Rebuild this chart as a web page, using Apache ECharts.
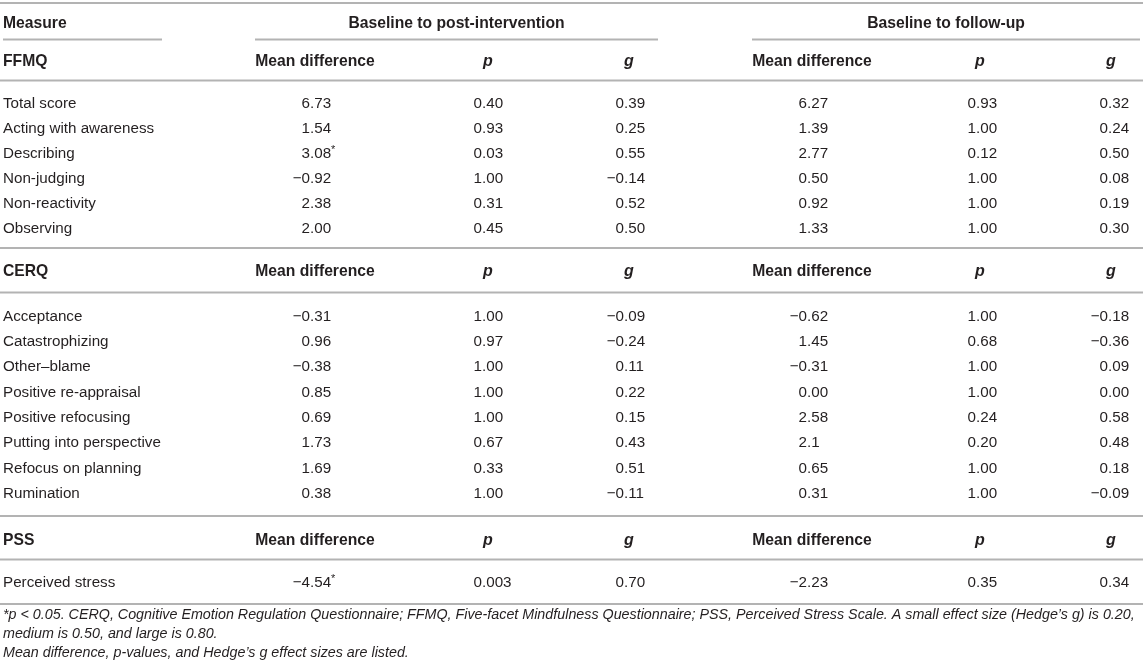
<!DOCTYPE html>
<html><head><meta charset="utf-8">
<script src="https://cdn.jsdelivr.net/npm/echarts@6/dist/echarts.min.js"></script>
<style>html,body{margin:0;padding:0;background:#fff}#c{width:1143px;height:671px}</style>
</head><body><div id="c"></div>
<script>
// ---------- DATA ----------
const firstHeader = 'Measure';
const periods = ['Baseline to post-intervention', 'Baseline to follow-up'];
const statHeaders = ['Mean difference', 'p', 'g'];
const scaleNames = ['FFMQ', 'CERQ', 'PSS'];

const ffmqMeasures = ['Total score', 'Acting with awareness', 'Describing', 'Non-judging', 'Non-reactivity', 'Observing'];
const ffmqPostMean = ['6.73', '1.54', '3.08*', '−0.92', '2.38', '2.00'];
const ffmqPostP = ['0.40', '0.93', '0.03', '1.00', '0.31', '0.45'];
const ffmqPostG = ['0.39', '0.25', '0.55', '−0.14', '0.52', '0.50'];
const ffmqFollowMean = ['6.27', '1.39', '2.77', '0.50', '0.92', '1.33'];
const ffmqFollowP = ['0.93', '1.00', '0.12', '1.00', '1.00', '1.00'];
const ffmqFollowG = ['0.32', '0.24', '0.50', '0.08', '0.19', '0.30'];

const cerqMeasures = ['Acceptance', 'Catastrophizing', 'Other–blame', 'Positive re-appraisal', 'Positive refocusing', 'Putting into perspective', 'Refocus on planning', 'Rumination'];
const cerqPostMean = ['−0.31', '0.96', '−0.38', '0.85', '0.69', '1.73', '1.69', '0.38'];
const cerqPostP = ['1.00', '0.97', '1.00', '1.00', '1.00', '0.67', '0.33', '1.00'];
const cerqPostG = ['−0.09', '−0.24', '0.11', '0.22', '0.15', '0.43', '0.51', '−0.11'];
const cerqFollowMean = ['−0.62', '1.45', '−0.31', '0.00', '2.58', '2.1', '0.65', '0.31'];
const cerqFollowP = ['1.00', '0.68', '1.00', '1.00', '0.24', '0.20', '1.00', '1.00'];
const cerqFollowG = ['−0.18', '−0.36', '0.09', '0.00', '0.58', '0.48', '0.18', '−0.09'];

const pssMeasures = ['Perceived stress'];
const pssPostMean = ['−4.54*'];
const pssPostP = ['0.003'];
const pssPostG = ['0.70'];
const pssFollowMean = ['−2.23'];
const pssFollowP = ['0.35'];
const pssFollowG = ['0.34'];

const footnotes = [
  '*p < 0.05. CERQ, Cognitive Emotion Regulation Questionnaire; FFMQ, Five-facet Mindfulness Questionnaire; PSS, Perceived Stress Scale. A small effect size (Hedge\u2019s g) is 0.20,',
  'medium is 0.50, and large is 0.80.',
  'Mean difference, p-values, and Hedge\u2019s g effect sizes are listed.'
];

// ---------- LAYOUT / STYLE ----------
const W = 1143, H = 671;
const FONT = '"Liberation Sans", Arial, Helvetica, sans-serif';
const TXT = '#231f20';
const RULE = '#b3b3b3';
const BODY = '15.2px ' + FONT;
const BOLD = 'bold 15.7px ' + FONT;
const ITB = 'italic bold 16px ' + FONT;
const NOTE = 'italic 14.3px ' + FONT;
const TEXT_DY = 1.2;
const labelX = 3;
const headerCenters = [315, 488, 629, 812, 980, 1111];
const decimalX = [310, 482, 624, 807, 976, 1108];
const periodSpans = [[255, 658], [752, 1140]];
const measureSpan = [3, 162];
const yTopRule = 3, yTitle = 22.5, yTitleRule = 39.5;
const blockLayout = [
  { head: 60, rule: 80.5, first: 103, step: 25, end: 248 },
  { head: 270.5, rule: 292.5, first: 315.5, step: 25.3, end: 516 },
  { head: 539.5, rule: 559.5, first: 582, step: 25, end: 604 }
];
const noteY = [614, 632.5, 651.5];

const blocks = [
  { name: scaleNames[0], measures: ffmqMeasures, cols: [ffmqPostMean, ffmqPostP, ffmqPostG, ffmqFollowMean, ffmqFollowP, ffmqFollowG] },
  { name: scaleNames[1], measures: cerqMeasures, cols: [cerqPostMean, cerqPostP, cerqPostG, cerqFollowMean, cerqFollowP, cerqFollowG] },
  { name: scaleNames[2], measures: pssMeasures, cols: [pssPostMean, pssPostP, pssPostG, pssFollowMean, pssFollowP, pssFollowG] }
];

const cells = [];
const rules = [];
function addText(x, y, text, font, align, extra) { cells.push(Object.assign({ x, y, text, font, align }, extra || {})); }

rules.push([0, W, yTopRule]);
addText(labelX, yTitle, firstHeader, BOLD, 'left');
periods.forEach((p, i) => addText((periodSpans[i][0] + periodSpans[i][1]) / 2, yTitle, p, BOLD, 'center'));
rules.push([measureSpan[0], measureSpan[1], yTitleRule]);
periodSpans.forEach(s => rules.push([s[0], s[1], yTitleRule]));

blocks.forEach((b, bi) => {
  const L = blockLayout[bi];
  addText(labelX, L.head, b.name, BOLD, 'left');
  for (let c = 0; c < 6; c++) {
    addText(headerCenters[c], L.head, statHeaders[c % 3], c % 3 === 0 ? BOLD : ITB, 'center');
  }
  rules.push([0, W, L.rule]);
  b.measures.forEach((m, r) => {
    const y = L.first + r * L.step;
    addText(labelX, y, m, BODY, 'left');
    b.cols.forEach((col, c) => {
      const v = col[r];
      const star = v.endsWith('*');
      const core = star ? v.slice(0, -1) : v;
      const k = core.indexOf('.');
      addText(decimalX[c], y, core.slice(0, k), BODY, 'right');
      addText(decimalX[c], y, core.slice(k), BODY, 'left');
      if (star) addText(decimalX[c], y - 4, '*', '11px ' + FONT, 'left', { after: core.slice(k) });
    });
  });
  rules.push([0, W, L.end]);
});
footnotes.forEach((t, i) => addText(labelX, noteY[i], t, NOTE, 'left'));

// ---------- CHART ----------
const chart = echarts.init(document.getElementById('c'), null, { renderer: 'canvas' });
const ctx = document.createElement('canvas').getContext('2d');
function textW(text, font) { ctx.font = font; return ctx.measureText(text).width; }

chart.setOption({
  animation: false,
  backgroundColor: '#fff',
  grid: { left: 0, right: 0, top: 0, bottom: 0 },
  xAxis: { type: 'value', min: 0, max: W, show: false },
  yAxis: { type: 'value', min: 0, max: H, inverse: true, show: false },
  series: [
    {
      type: 'custom',
      data: rules.map(r => [r[0], r[2], r[1]]),
      encode: { x: [0, 2], y: 1 },
      renderItem: (params, api) => {
        const a = api.coord([api.value(0), api.value(1)]);
        const b = api.coord([api.value(2), api.value(1)]);
        return { type: 'line', shape: { x1: a[0], y1: a[1], x2: b[0], y2: b[1] }, style: { stroke: RULE, lineWidth: 2 } };
      },
      silent: true
    },
    {
      type: 'custom',
      data: cells.map(c => [c.x, c.y]),
      renderItem: (params, api) => {
        const c = cells[params.dataIndex];
        const p = api.coord([api.value(0), api.value(1)]);
        let x = p[0];
        if (c.after) x += textW(c.after, BODY);
        return { type: 'text', x: x, y: p[1] + TEXT_DY, style: { text: c.text, font: c.font, fill: TXT, align: c.align, verticalAlign: 'middle' } };
      },
      silent: true
    }
  ]
});
</script></body></html>
